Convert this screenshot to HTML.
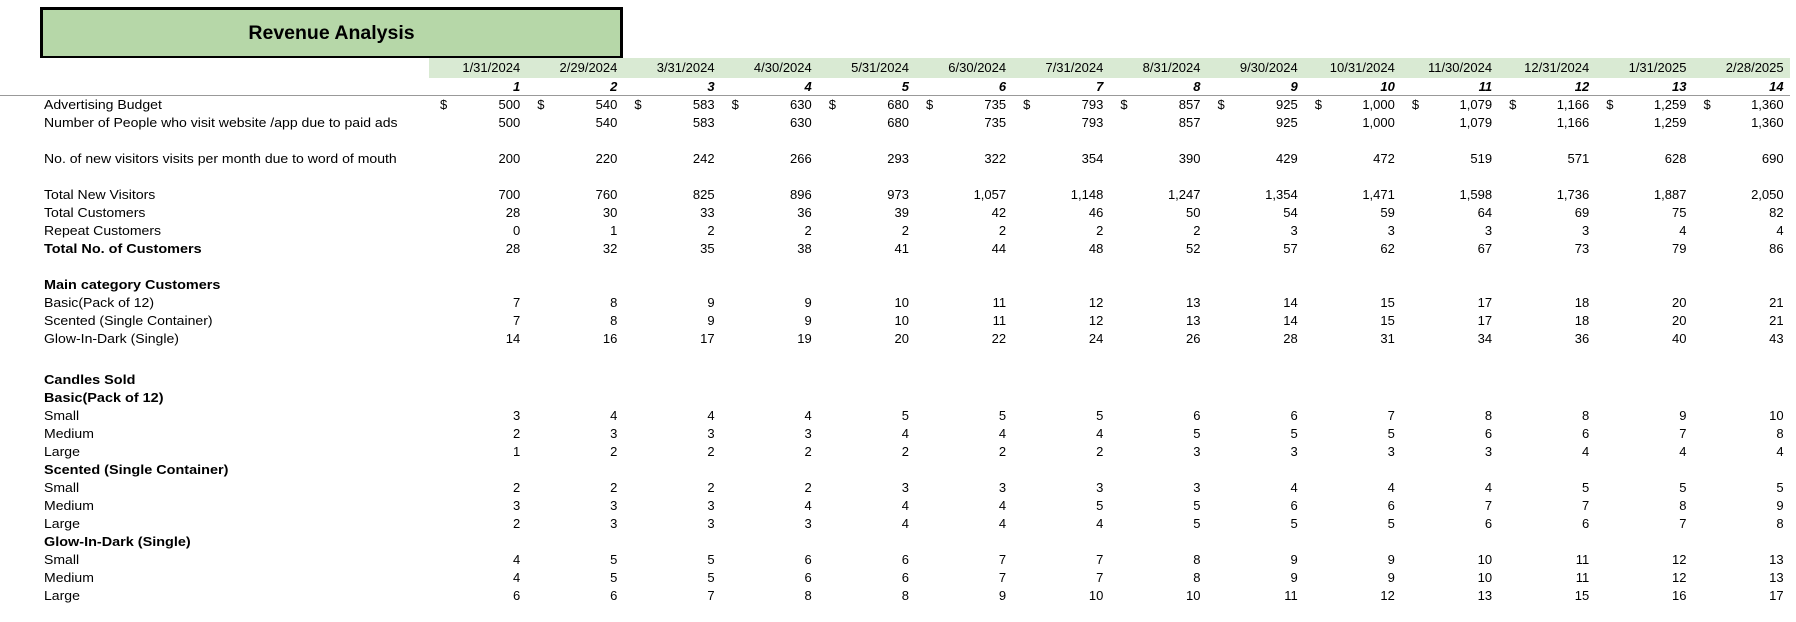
<!DOCTYPE html>
<html><head><meta charset="utf-8"><style>
body{margin:0;width:1796px;height:622px;background:#fff;position:relative;overflow:hidden;font-family:"Liberation Sans",Arial,sans-serif;font-size:13px;color:#000}
#title{position:absolute;left:40px;top:7px;width:577px;height:46px;background:#b6d7a8;border:3px solid #000;font-weight:bold;font-size:19.5px;text-align:center;line-height:46px}
table{position:absolute;left:0;top:58px;border-collapse:collapse;table-layout:fixed}
td{padding:0 6px 0 0;height:18px;line-height:18px;text-align:right;white-space:nowrap;overflow:visible}
td.l{text-align:left;padding-left:44px}
td.l i{font-style:normal;display:inline-block;transform:scaleX(1.08);transform-origin:0 50%}
td.l.b i{transform:scaleX(1.11)}
tr.d td{background:#d9ead3;height:20px;line-height:20px}
tr.d td.l{background:#fff}
tr.n td{font-weight:bold;font-style:italic;border-bottom:1px solid #999;height:17px;line-height:17px}
tr.g td{height:23px}
td.b{font-weight:bold}
span.s{float:left;padding-left:11px}
</style></head><body>
<div id="title">Revenue Analysis</div>
<table>
<colgroup><col style="width:429px"><col span="14" style="width:97.2px"></colgroup>
<tr class="d"><td class="l"></td><td>1/31/2024</td><td>2/29/2024</td><td>3/31/2024</td><td>4/30/2024</td><td>5/31/2024</td><td>6/30/2024</td><td>7/31/2024</td><td>8/31/2024</td><td>9/30/2024</td><td>10/31/2024</td><td>11/30/2024</td><td>12/31/2024</td><td>1/31/2025</td><td>2/28/2025</td></tr>
<tr class="n"><td class="l"></td><td>1</td><td>2</td><td>3</td><td>4</td><td>5</td><td>6</td><td>7</td><td>8</td><td>9</td><td>10</td><td>11</td><td>12</td><td>13</td><td>14</td></tr>
<tr><td class="l"><i>Advertising Budget</i></td><td><span class="s">$</span>500</td><td><span class="s">$</span>540</td><td><span class="s">$</span>583</td><td><span class="s">$</span>630</td><td><span class="s">$</span>680</td><td><span class="s">$</span>735</td><td><span class="s">$</span>793</td><td><span class="s">$</span>857</td><td><span class="s">$</span>925</td><td><span class="s">$</span>1,000</td><td><span class="s">$</span>1,079</td><td><span class="s">$</span>1,166</td><td><span class="s">$</span>1,259</td><td><span class="s">$</span>1,360</td></tr>
<tr><td class="l"><i>Number of People who visit website /app due to paid ads</i></td><td>500</td><td>540</td><td>583</td><td>630</td><td>680</td><td>735</td><td>793</td><td>857</td><td>925</td><td>1,000</td><td>1,079</td><td>1,166</td><td>1,259</td><td>1,360</td></tr>
<tr><td class="l"></td><td colspan="14"></td></tr>
<tr><td class="l"><i>No. of new visitors visits per month due to word of mouth</i></td><td>200</td><td>220</td><td>242</td><td>266</td><td>293</td><td>322</td><td>354</td><td>390</td><td>429</td><td>472</td><td>519</td><td>571</td><td>628</td><td>690</td></tr>
<tr><td class="l"></td><td colspan="14"></td></tr>
<tr><td class="l"><i>Total New Visitors</i></td><td>700</td><td>760</td><td>825</td><td>896</td><td>973</td><td>1,057</td><td>1,148</td><td>1,247</td><td>1,354</td><td>1,471</td><td>1,598</td><td>1,736</td><td>1,887</td><td>2,050</td></tr>
<tr><td class="l"><i>Total Customers</i></td><td>28</td><td>30</td><td>33</td><td>36</td><td>39</td><td>42</td><td>46</td><td>50</td><td>54</td><td>59</td><td>64</td><td>69</td><td>75</td><td>82</td></tr>
<tr><td class="l"><i>Repeat Customers</i></td><td>0</td><td>1</td><td>2</td><td>2</td><td>2</td><td>2</td><td>2</td><td>2</td><td>3</td><td>3</td><td>3</td><td>3</td><td>4</td><td>4</td></tr>
<tr><td class="l b"><i>Total No. of Customers</i></td><td>28</td><td>32</td><td>35</td><td>38</td><td>41</td><td>44</td><td>48</td><td>52</td><td>57</td><td>62</td><td>67</td><td>73</td><td>79</td><td>86</td></tr>
<tr><td class="l"></td><td colspan="14"></td></tr>
<tr><td class="l b"><i>Main category Customers</i></td><td colspan="14"></td></tr>
<tr><td class="l"><i>Basic(Pack of 12)</i></td><td>7</td><td>8</td><td>9</td><td>9</td><td>10</td><td>11</td><td>12</td><td>13</td><td>14</td><td>15</td><td>17</td><td>18</td><td>20</td><td>21</td></tr>
<tr><td class="l"><i>Scented (Single Container)</i></td><td>7</td><td>8</td><td>9</td><td>9</td><td>10</td><td>11</td><td>12</td><td>13</td><td>14</td><td>15</td><td>17</td><td>18</td><td>20</td><td>21</td></tr>
<tr><td class="l"><i>Glow-In-Dark (Single)</i></td><td>14</td><td>16</td><td>17</td><td>19</td><td>20</td><td>22</td><td>24</td><td>26</td><td>28</td><td>31</td><td>34</td><td>36</td><td>40</td><td>43</td></tr>
<tr class="g"><td class="l"></td><td colspan="14"></td></tr>
<tr><td class="l b"><i>Candles Sold</i></td><td colspan="14"></td></tr>
<tr><td class="l b"><i>Basic(Pack of 12)</i></td><td colspan="14"></td></tr>
<tr><td class="l"><i>Small</i></td><td>3</td><td>4</td><td>4</td><td>4</td><td>5</td><td>5</td><td>5</td><td>6</td><td>6</td><td>7</td><td>8</td><td>8</td><td>9</td><td>10</td></tr>
<tr><td class="l"><i>Medium</i></td><td>2</td><td>3</td><td>3</td><td>3</td><td>4</td><td>4</td><td>4</td><td>5</td><td>5</td><td>5</td><td>6</td><td>6</td><td>7</td><td>8</td></tr>
<tr><td class="l"><i>Large</i></td><td>1</td><td>2</td><td>2</td><td>2</td><td>2</td><td>2</td><td>2</td><td>3</td><td>3</td><td>3</td><td>3</td><td>4</td><td>4</td><td>4</td></tr>
<tr><td class="l b"><i>Scented (Single Container)</i></td><td colspan="14"></td></tr>
<tr><td class="l"><i>Small</i></td><td>2</td><td>2</td><td>2</td><td>2</td><td>3</td><td>3</td><td>3</td><td>3</td><td>4</td><td>4</td><td>4</td><td>5</td><td>5</td><td>5</td></tr>
<tr><td class="l"><i>Medium</i></td><td>3</td><td>3</td><td>3</td><td>4</td><td>4</td><td>4</td><td>5</td><td>5</td><td>6</td><td>6</td><td>7</td><td>7</td><td>8</td><td>9</td></tr>
<tr><td class="l"><i>Large</i></td><td>2</td><td>3</td><td>3</td><td>3</td><td>4</td><td>4</td><td>4</td><td>5</td><td>5</td><td>5</td><td>6</td><td>6</td><td>7</td><td>8</td></tr>
<tr><td class="l b"><i>Glow-In-Dark (Single)</i></td><td colspan="14"></td></tr>
<tr><td class="l"><i>Small</i></td><td>4</td><td>5</td><td>5</td><td>6</td><td>6</td><td>7</td><td>7</td><td>8</td><td>9</td><td>9</td><td>10</td><td>11</td><td>12</td><td>13</td></tr>
<tr><td class="l"><i>Medium</i></td><td>4</td><td>5</td><td>5</td><td>6</td><td>6</td><td>7</td><td>7</td><td>8</td><td>9</td><td>9</td><td>10</td><td>11</td><td>12</td><td>13</td></tr>
<tr><td class="l"><i>Large</i></td><td>6</td><td>6</td><td>7</td><td>8</td><td>8</td><td>9</td><td>10</td><td>10</td><td>11</td><td>12</td><td>13</td><td>15</td><td>16</td><td>17</td></tr>
</table>
</body></html>
